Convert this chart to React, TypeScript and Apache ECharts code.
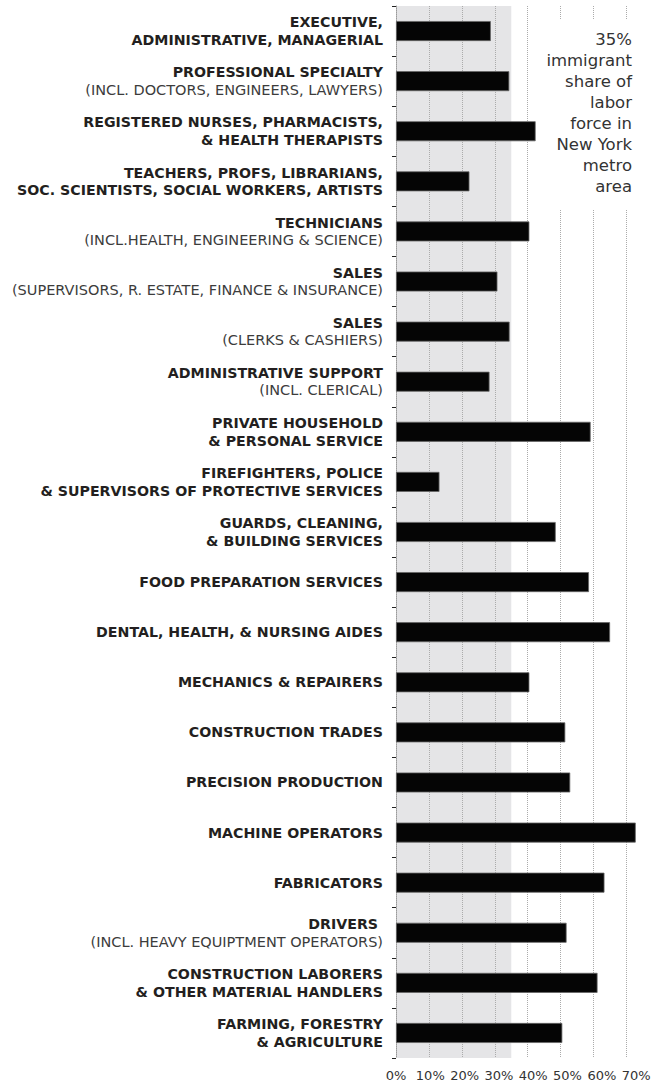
import React, { useEffect, useRef } from "react";
import * as echarts from "echarts";

const CATEGORY_MAIN: string[] = [
  "EXECUTIVE,\nADMINISTRATIVE, MANAGERIAL",
  "PROFESSIONAL SPECIALTY",
  "REGISTERED NURSES, PHARMACISTS,\n& HEALTH THERAPISTS",
  "TEACHERS, PROFS, LIBRARIANS,\nSOC. SCIENTISTS, SOCIAL WORKERS, ARTISTS",
  "TECHNICIANS",
  "SALES",
  "SALES",
  "ADMINISTRATIVE SUPPORT",
  "PRIVATE HOUSEHOLD\n& PERSONAL SERVICE",
  "FIREFIGHTERS, POLICE\n& SUPERVISORS OF PROTECTIVE SERVICES",
  "GUARDS, CLEANING,\n& BUILDING SERVICES",
  "FOOD PREPARATION SERVICES",
  "DENTAL, HEALTH, & NURSING AIDES",
  "MECHANICS & REPAIRERS",
  "CONSTRUCTION TRADES",
  "PRECISION PRODUCTION",
  "MACHINE OPERATORS",
  "FABRICATORS",
  "DRIVERS ",
  "CONSTRUCTION LABORERS\n& OTHER MATERIAL HANDLERS",
  "FARMING, FORESTRY\n& AGRICULTURE",
];

const CATEGORY_NOTE: string[] = [
  "",
  "(INCL. DOCTORS, ENGINEERS, LAWYERS)",
  "",
  "",
  "(INCL.HEALTH, ENGINEERING & SCIENCE)",
  "(SUPERVISORS, R. ESTATE, FINANCE & INSURANCE)",
  "(CLERKS & CASHIERS)",
  "(INCL. CLERICAL)",
  "",
  "",
  "",
  "",
  "",
  "",
  "",
  "",
  "",
  "",
  "(INCL. HEAVY EQUIPTMENT OPERATORS)",
  "",
  "",
];

// Immigrant share of each occupation (%)
const IMMIGRANT_SHARE: number[] = [
  28.8, 34.4, 42.4, 22.3, 40.5, 30.8, 34.5, 28.4, 59.1, 13.2, 48.5, 58.6, 65.0,
  40.5, 51.4, 52.9, 72.8, 63.3, 51.8, 61.2, 50.5,
];

const METRO_SHARE = 35;
const X_TICK_VALUES: number[] = [0, 10, 20, 30, 40, 50, 60, 70];
const ANNOTATION_LINES: string[] = [
  "35%",
  "immigrant",
  "share of",
  "labor",
  "force in",
  "New York",
  "metro",
  "area",
];

const FONT = "'DejaVu Sans', sans-serif";

export default function App() {
  const ref = useRef<HTMLDivElement>(null);

  useEffect(() => {
    if (!ref.current) return;
    const chart = echarts.init(ref.current, null, { renderer: "svg" });

    const categories = CATEGORY_MAIN.map((m, i) =>
      CATEGORY_NOTE[i] ? m + "\n" + CATEGORY_NOTE[i] : m
    );

    const option: any = {
      animation: false,
      backgroundColor: "#ffffff",
      grid: {
        left: 396,
        right: 20,
        top: 6,
        bottom: 24,
        containLabel: false,
        outerBoundsMode: "none",
      },
      xAxis: [
        {
          type: "value",
          min: 0,
          max: 75,
          interval: 10,
          z: 2,
          axisLine: { show: false },
          axisTick: { show: false },
          axisLabel: { show: false },
          splitLine: {
            show: true,
            showMinLine: false,
            showMaxLine: false,
            lineStyle: { color: "#ababab", width: 1, type: [1, 1] },
          },
        },
        {
          type: "value",
          position: "bottom",
          min: 0,
          max: 72,
          interval: 10,
          axisLine: { show: false },
          axisTick: { show: false },
          splitLine: { show: false },
          axisLabel: {
            show: true,
            showMaxLabel: false,
            margin: 11,
            fontFamily: FONT,
            fontSize: 13,
            color: "#333333",
            formatter: (v: number) =>
              X_TICK_VALUES.indexOf(v) >= 0 ? v + "%" : "",
          },
        },
      ],
      yAxis: {
        type: "category",
        inverse: true,
        data: categories,
        z: 2,
        axisLine: {
          show: true,
          lineStyle: { color: "#9a9a9a", width: 1, type: [1, 1] },
        },
        axisTick: {
          show: true,
          length: 4,
          lineStyle: { color: "#222222", width: 1 },
        },
        splitLine: { show: false },
        axisLabel: {
          margin: 13,
          align: "right",
          formatter: (_v: string, idx: number) => {
            const parts = CATEGORY_MAIN[idx]
              .split("\n")
              .map((s) => "{b|" + s + "}");
            if (CATEGORY_NOTE[idx]) parts.push("{r|" + CATEGORY_NOTE[idx] + "}");
            return parts.join("\n");
          },
          rich: {
            b: {
              fontFamily: FONT,
              fontWeight: "bold",
              fontSize: 14.2,
              lineHeight: 17.5,
              color: "#231f20",
              align: "right",
            },
            r: {
              fontFamily: FONT,
              fontWeight: "normal",
              fontSize: 14.5,
              lineHeight: 17.5,
              color: "#3c3c3c",
              align: "right",
            },
          },
        },
      },
      series: [
        {
          name: "Metro share",
          type: "line",
          z: 1,
          data: [],
          silent: true,
          markArea: {
            silent: true,
            itemStyle: { color: "#e5e5e7" },
            label: { show: false },
            data: [[{ xAxis: 0 }, { xAxis: METRO_SHARE }]],
          },
        },
        {
          name: "Immigrant share",
          type: "bar",
          z: 3,
          barWidth: 20,
          data: IMMIGRANT_SHARE,
          itemStyle: {
            color: "#050505",
            borderColor: "#666666",
            borderWidth: 0.8,
          },
        },
      ],
      graphic: [
        {
          type: "rect",
          z: 10,
          shape: { x: 537, y: 20, width: 110, height: 189 },
          style: { fill: "#ffffff" },
        },
        {
          type: "text",
          z: 11,
          x: 632,
          y: 29,
          style: {
            text: ANNOTATION_LINES.join("\n"),
            align: "right",
            verticalAlign: "top",
            fontFamily: FONT,
            fontSize: 16.5,
            lineHeight: 21,
            fill: "#333333",
          },
        },
      ],
    };

    chart.setOption(option);
    return () => chart.dispose();
  }, []);

  return (
    <div
      ref={ref}
      style={{ position: "absolute", left: 0, top: 0, width: 663, height: 1082 }}
    />
  );
}
